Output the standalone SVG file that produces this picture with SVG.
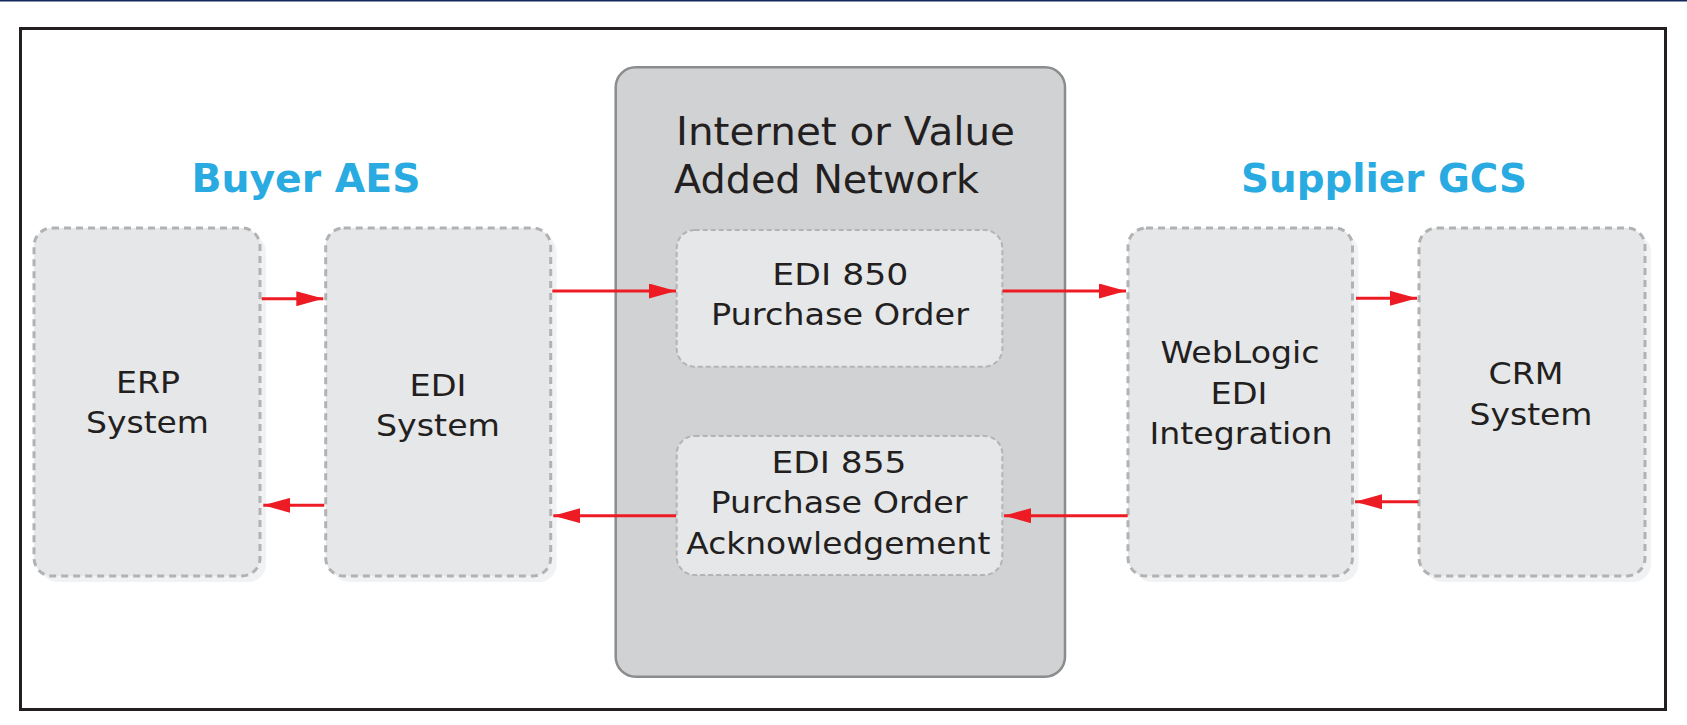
<svg xmlns="http://www.w3.org/2000/svg" width="1687" height="725" viewBox="0 0 1687 725">
<style>
.lbl{font-family:"DejaVu Sans","Liberation Sans",sans-serif;font-size:31px;fill:#231f20;text-anchor:middle}
.ttl{font-family:"DejaVu Sans","Liberation Sans",sans-serif;font-size:39px;fill:#231f20}
.hdr{font-family:"DejaVu Sans","Liberation Sans",sans-serif;font-size:39px;font-weight:bold;fill:#29abe2;text-anchor:middle}
.shadow{fill:#f1f2f3}
.node{fill:#e6e7e9;stroke:#b1b2b4;stroke-width:3;stroke-dasharray:7 5}
.msg{fill:#e6e7e9;stroke:#b3b4b6;stroke-width:2;stroke-dasharray:5 3}
.conn{stroke:#ed1c24;stroke-width:3;fill:none}
</style>
<defs>
<marker id="ah" markerUnits="userSpaceOnUse" markerWidth="27" markerHeight="15" refX="27" refY="7.5" orient="auto">
<path d="M0,0 L27,7.5 L0,15 Z" fill="#ed1c24"/>
</marker>
</defs>
<rect x="0" y="0" width="1687" height="1.5" fill="#14295b"/>
<rect x="20.5" y="28.5" width="1645" height="681" fill="#ffffff" stroke="#231f20" stroke-width="3"/>
<text class="hdr" x="306" y="192" textLength="229" lengthAdjust="spacingAndGlyphs">Buyer AES</text>
<text class="hdr" x="1384" y="192" textLength="286" lengthAdjust="spacingAndGlyphs">Supplier GCS</text>

<g id="network">
<rect x="615.7" y="67.3" width="449.3" height="609.4" rx="20" fill="#d1d2d4" stroke="#8b8c8e" stroke-width="2.5"/>
<text class="ttl" x="676" y="145" textLength="339" lengthAdjust="spacingAndGlyphs">Internet or Value</text>
<text class="ttl" x="674" y="192.7" textLength="305" lengthAdjust="spacingAndGlyphs">Added Network</text>
</g>

<g id="erp">
<rect class="shadow" x="40" y="234" width="226" height="348" rx="18"/>
<rect class="node" x="34" y="228" width="226" height="348" rx="18"/>
<text class="lbl" x="148" y="392.7" textLength="64" lengthAdjust="spacingAndGlyphs">ERP</text>
<text class="lbl" x="147.5" y="433.3" textLength="123" lengthAdjust="spacingAndGlyphs">System</text>
</g>

<g id="edi">
<rect class="shadow" x="331.7" y="234" width="225" height="348" rx="18"/>
<rect class="node" x="325.7" y="228" width="225" height="348" rx="18"/>
<text class="lbl" x="438" y="396" textLength="57" lengthAdjust="spacingAndGlyphs">EDI</text>
<text class="lbl" x="438" y="435.7" textLength="124" lengthAdjust="spacingAndGlyphs">System</text>
</g>

<g id="edi850">
<rect class="msg" x="676.7" y="230" width="325.6" height="136.7" rx="18"/>
<text class="lbl" x="840.3" y="285" textLength="136" lengthAdjust="spacingAndGlyphs">EDI 850</text>
<text class="lbl" x="840" y="325" textLength="258" lengthAdjust="spacingAndGlyphs">Purchase Order</text>
</g>

<g id="edi855">
<rect class="msg" x="676.7" y="436" width="325.6" height="139" rx="18"/>
<text class="lbl" x="839" y="473.3" textLength="135" lengthAdjust="spacingAndGlyphs">EDI 855</text>
<text class="lbl" x="839" y="513.3" textLength="257" lengthAdjust="spacingAndGlyphs">Purchase Order</text>
<text class="lbl" x="838.3" y="554.3" textLength="304" lengthAdjust="spacingAndGlyphs">Acknowledgement</text>
</g>

<g id="weblogic">
<rect class="shadow" x="1134" y="234" width="224.5" height="348" rx="18"/>
<rect class="node" x="1128" y="228" width="224.5" height="348" rx="18"/>
<text class="lbl" x="1240" y="363.3" textLength="159" lengthAdjust="spacingAndGlyphs">WebLogic</text>
<text class="lbl" x="1239" y="404" textLength="57" lengthAdjust="spacingAndGlyphs">EDI</text>
<text class="lbl" x="1241" y="444" textLength="183" lengthAdjust="spacingAndGlyphs">Integration</text>
</g>

<g id="crm">
<rect class="shadow" x="1425" y="234" width="226" height="348" rx="18"/>
<rect class="node" x="1419" y="228" width="226" height="348" rx="18"/>
<text class="lbl" x="1526" y="384.3" textLength="75" lengthAdjust="spacingAndGlyphs">CRM</text>
<text class="lbl" x="1531" y="425" textLength="123" lengthAdjust="spacingAndGlyphs">System</text>
</g>

<g id="connectors">
<line class="conn" x1="261.7" y1="298.7" x2="323.3" y2="298.7" marker-end="url(#ah)"/>
<line class="conn" x1="324.3" y1="505.3" x2="263.3" y2="505.3" marker-end="url(#ah)"/>
<line class="conn" x1="552.3" y1="291" x2="676" y2="291" marker-end="url(#ah)"/>
<line class="conn" x1="676" y1="515.7" x2="553.3" y2="515.7" marker-end="url(#ah)"/>
<line class="conn" x1="1002.5" y1="291" x2="1126" y2="291" marker-end="url(#ah)"/>
<line class="conn" x1="1127.7" y1="515.7" x2="1004" y2="515.7" marker-end="url(#ah)"/>
<line class="conn" x1="1356" y1="298.3" x2="1417" y2="298.3" marker-end="url(#ah)"/>
<line class="conn" x1="1418.3" y1="501.7" x2="1355" y2="501.7" marker-end="url(#ah)"/>
</g>
</svg>
